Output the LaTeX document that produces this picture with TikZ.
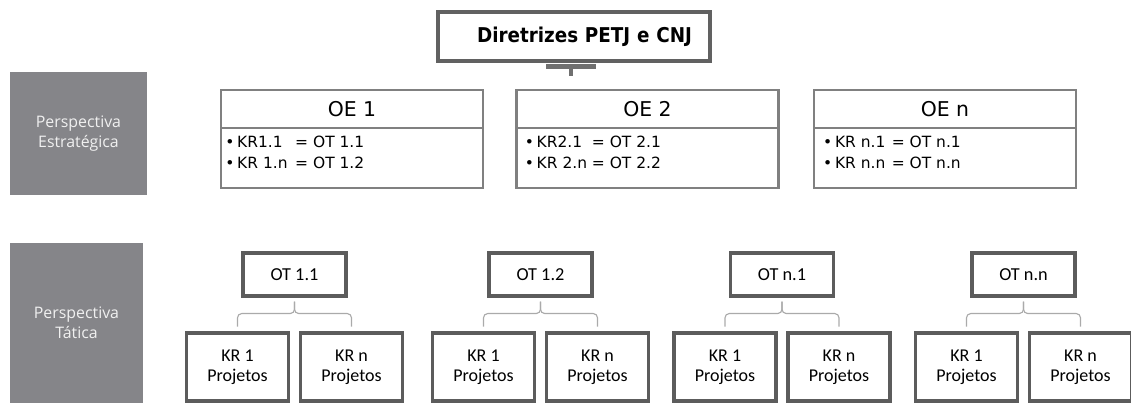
\documentclass[tikz,border=0pt]{standalone}
\usepackage{fontspec}
\newfontfamily\verdfont{DejaVu Sans}
\newfontfamily\headfont[FakeStretch=0.9]{DejaVu Sans}
\newfontfamily\calfont{Carlito}
\newfontfamily\opfont{Open Sans}
\usetikzlibrary{calc}

\definecolor{panelgray}{RGB}{133,133,137}
\definecolor{boxgray}{RGB}{92,92,92}
\definecolor{oegray}{RGB}{128,128,128}
\definecolor{bracegray}{RGB}{170,170,170}
\definecolor{bargray}{RGB}{112,112,112}

% bullet, key result, = objective
\newcommand{\krline}[3]{\textbullet\hspace{2pt}\makebox[#1][l]{#2}= #3}

\begin{document}
\begin{tikzpicture}[
     dirbox/.style={rectangle,draw=black!62,line width=2.2pt,minimum height=1.225cm,
       inner xsep=0.45cm,text width=5.9cm,align=right,
       font=\headfont\bfseries\fontsize{14.5}{17}\selectfont},
     bar/.style={draw=bargray,line width=3.4pt},
     panel/.style={rectangle,fill=panelgray,text=white!94!black,align=center,
       font=\opfont\fontsize{11.3}{14.2}\selectfont},
     oehead/.style={rectangle,draw=oegray,line width=1.9pt,outer sep=0pt,
       minimum width=6.55cm,minimum height=0.95cm,
       font=\verdfont\fontsize{14.5}{17}\selectfont},
     oebody/.style={oehead,minimum height=1.5cm,anchor=north},
     oetext/.style={anchor=north west,inner sep=0pt,align=left,
       font=\verdfont\fontsize{11}{14.9}\selectfont},
     ot/.style={rectangle,draw=boxgray,line width=2.2pt,minimum width=2.575cm,
       minimum height=1.075cm,font=\calfont\fontsize{13}{15}\selectfont},
     kr/.style={ot,minimum width=2.55cm,minimum height=1.7cm,align=center,
       font=\calfont\fontsize{12.8}{14.5}\selectfont},
     level 1/.style={sibling distance=2.85cm,level distance=2.3125cm},
     edge from parent/.style={draw=bracegray,line width=0.8pt,rounded corners=3pt},
     edge from parent path={([yshift=-0.1cm]\tikzparentnode.south) -- ++(0,-0.3)
       -| ([yshift=0.12cm]\tikzchildnode.north)}
   ]
   \path[use as bounding box] (0,0) rectangle (28.275,-10.075);
   % Guidelines.
   \node[dirbox] (dir) at (14.35,-0.9125) {Diretrizes PETJ e CNJ};
   \coordinate (hub) at ($(dir.south)+(-0.075,-0.1)$);
   \draw[bar] ($(hub)+(-0.625,0)$) -- ($(hub)+(0.625,0)$);
   \draw[bar,line width=2.2pt] (hub) -- ++(0,-0.225);
   % Perspectives.
   \node[panel,minimum width=3.425cm,minimum height=3.075cm] (strat)
     at (1.9625,-3.3375) {Perspectiva\\Estratégica};
   \node[panel,minimum width=3.325cm,minimum height=4cm] (tat)
     at (1.9125,-8.075) {Perspectiva\\Tática};
   % Strategic objectives.
   \node[oehead] (oe1) at (8.8,-2.725) {OE 1};
   \node[oebody] (oe1body) at (oe1.south) {};
   \node[oetext] (oe1text) at ($(oe1body.north west)+(0.1,-0.19)$)
     {\krline{1.45cm}{KR1.1}{OT 1.1}\\\krline{1.45cm}{KR 1.n}{OT 1.2}};
   \node[oehead] (oe2) at (16.1875,-2.725) {OE 2};
   \node[oebody] (oe2body) at (oe2.south) {};
   \node[oetext] (oe2text) at ($(oe2body.north west)+(0.2,-0.19)$)
     {\krline{1.38cm}{KR2.1}{OT 2.1}\\\krline{1.38cm}{KR 2.n}{OT 2.2}};
   \node[oehead] (oen) at (23.625,-2.725) {OE n};
   \node[oebody] (oenbody) at (oen.south) {};
   \node[oetext] (oentext) at ($(oenbody.north west)+(0.22,-0.19)$)
     {\krline{1.42cm}{KR n.1}{OT n.1}\\\krline{1.42cm}{KR n.n}{OT n.n}};
   % Tactical objectives and their key results.
   \node[ot] (ot11) at (7.3625,-6.8625) {OT 1.1}
     child {node[kr] (ot11kr1) {KR 1\\Projetos}}
     child {node[kr] (ot11krn) {KR n\\Projetos}};
   \node[ot] (ot12) at (13.5125,-6.8625) {OT 1.2}
     child {node[kr] (ot12kr1) {KR 1\\Projetos}}
     child {node[kr] (ot12krn) {KR n\\Projetos}};
   \node[ot] (otn1) at (19.55,-6.8625) {OT n.1}
     child {node[kr] (otn1kr1) {KR 1\\Projetos}}
     child {node[kr] (otn1krn) {KR n\\Projetos}};
   \node[ot] (otnn) at (25.5875,-6.8625) {OT n.n}
     child {node[kr] (otnnkr1) {KR 1\\Projetos}}
     child {node[kr] (otnnkrn) {KR n\\Projetos}};
 \end{tikzpicture}
\end{document}
